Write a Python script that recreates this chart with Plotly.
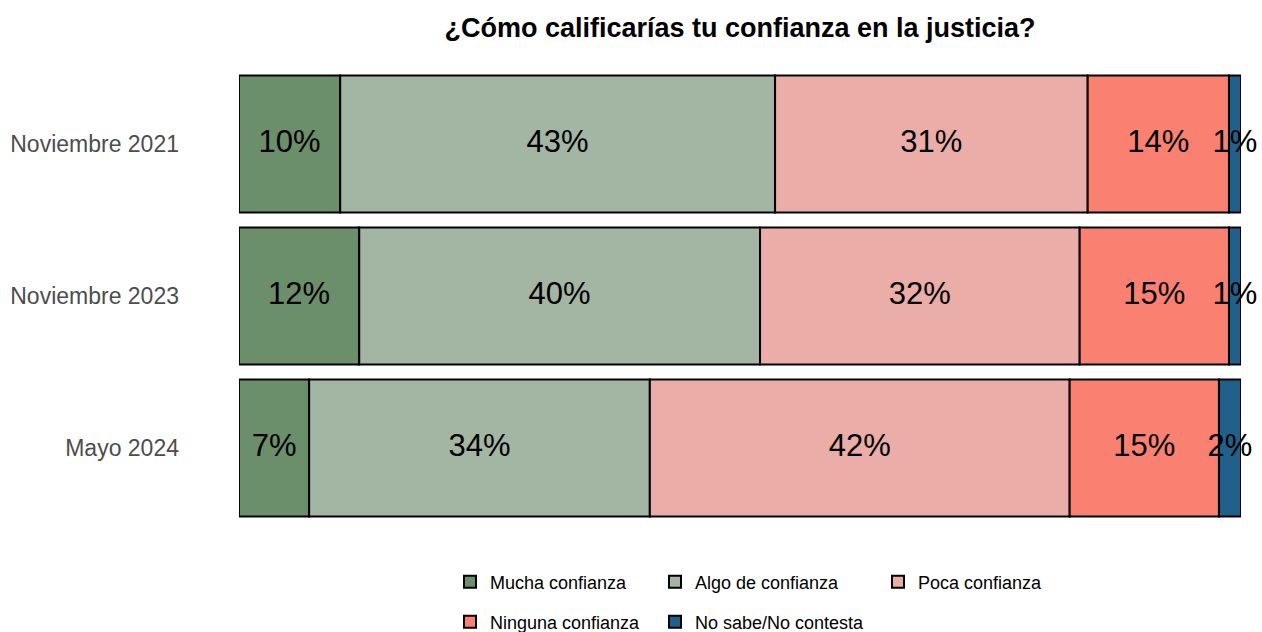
import plotly.graph_objects as go
import numpy as np

periods = ["Noviembre 2021", "Noviembre 2023", "Mayo 2024"]
categories = ["Mucha confianza", "Algo de confianza", "Poca confianza",
              "Ninguna confianza", "No sabe/No contesta"]
mucha = [10.1, 12.0, 7.0]
algo = [43.4, 40.0, 34.0]
poca = [31.2, 31.9, 41.9]
ninguna = [14.1, 14.9, 14.9]
nosabe = [1.2, 1.2, 2.2]
colors = ["#6B8E6B", "#A3B5A3", "#EBADA8", "#FA8072", "#22608C"]

series = [mucha, algo, poca, ninguna, nosabe]
FONT = "Liberation Sans, Arial, sans-serif"

W, H = 1262, 632
# legend grid: item start x (px) and row centre y (px)
leg_names = ["legend", "legend2", "legend3", "legend4", "legend5"]
leg_x = [450, 655, 878, 450, 655]
leg_y = [582, 582, 582, 622, 622]

fig = go.Figure()
left = np.zeros(len(periods))
for name, vals, col, lg in zip(categories, series, colors, leg_names):
    vals = np.array(vals)
    fig.add_trace(go.Bar(
        y=periods, x=vals, base=left, orientation="h", name=name,
        marker=dict(color=col, line=dict(color="black", width=2)),
        legend=lg, hoverinfo="skip",
    ))
    mids = left + vals / 2
    fig.add_trace(go.Scatter(
        y=periods, x=mids, mode="text",
        text=[f"{v:.0f}%" for v in vals],
        textfont=dict(size=31, color="black", family=FONT),
        showlegend=False, hoverinfo="skip", cliponaxis=False,
    ))
    left = left + vals

leg_font = dict(size=18, color="black", family=FONT)
legends = {
    lg: dict(orientation="h", xref="container", yref="container",
             x=lx / W, xanchor="left", y=1 - ly / H, yanchor="middle",
             font=leg_font, bgcolor="rgba(0,0,0,0)")
    for lg, lx, ly in zip(leg_names, leg_x, leg_y)
}

fig.update_layout(
    width=W, height=H,
    margin=dict(l=239, r=21, t=68, b=108, autoexpand=False),
    paper_bgcolor="white", plot_bgcolor="white",
    barmode="overlay", bargap=0.1,
    font=dict(family=FONT),
    title=dict(text="<b>¿Cómo calificarías tu confianza en la justicia?</b>",
               x=0.5, xref="paper", xanchor="center",
               y=1 - 28 / H, yref="container", yanchor="middle",
               font=dict(size=27, color="black", family=FONT)),
    xaxis=dict(range=[0, 100], showgrid=False, zeroline=False,
               showticklabels=False, ticks=""),
    yaxis=dict(autorange="reversed", showgrid=False, zeroline=False,
               ticks="", ticklabelstandoff=59,
               tickfont=dict(size=23, color="#4D4D4D", family=FONT)),
    **legends,
)

fig.write_html("out.html",
               config={"displayModeBar": False},
               post_script="document.body.style.margin='0';"
                           "document.body.style.overflow='hidden';")
